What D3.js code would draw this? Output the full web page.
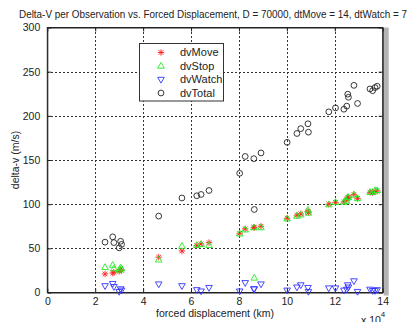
<!DOCTYPE html>
<html>
<head>
<meta charset="utf-8">
<script src="https://cdn.jsdelivr.net/npm/d3@7"></script>
<style>
  html, body { margin: 0; padding: 0; background: #fff; }
  svg { display: block; font-family: "Liberation Sans", Arial, sans-serif; }
</style>
</head>
<body>
<svg id="chart" width="412" height="322"></svg>
<script>
// forced displacement per observation (km)
const displacement = [
  24100, 27300, 27800, 30000, 30600, 31000, 46500, 56200, 62400, 64200, 67500,
  80300, 82600, 86200, 86400, 89200, 100100, 104200, 105800, 108800, 109000,
  117500, 120300, 123800, 125000, 125400, 125700, 128000, 129500, 134700,
  135800, 136800, 137700
];
// delta-v components (m/s)
const dvMove = [
  21, 22, 23, 24, 26, 25, 40, 47, 53, 55, 56.5,
  67, 72, 74, 73.5, 75, 84, 87.5, 89, 92, 90.5,
  100, 102, 102.5, 104.5, 108, 107.5, 111, 106.5, 113.5,
  113, 114.5, 115
];
const dvStop = [
  28.5, 31, 27, 25.5, 28, 27, 37, 52.5, 53.5, 54.5, 53.5,
  66.5, 71, 73.5, 16.5, 73.5, 83.5, 86.5, 88, 93.5, 90,
  99.5, 102, 102.5, 103, 108, 107.5, 110.5, 106.5, 113.5,
  113.5, 115.5, 115.5
];
const dvWatch = [
  7.5, 10, 6.5, 1, 4, 2.5, 9.5, 7.5, 3, 1.5, 5.5,
  1.5, 11, 4, 4, 9.5, 2.5, 6, 8.5, 5.5, 1,
  5, 5, 2.5, 3.5, 8.5, 6, 13, 1, 3.5,
  2, 2, 3
];
const dvTotal = [
  57, 63, 56.5, 50.5, 58, 54.5, 86.5, 107, 109.5, 111, 115.5,
  135, 154, 151.5, 94, 158, 170, 180, 185.5, 191, 181.5,
  204.5, 209, 207.5, 211, 224.5, 221, 234.5, 214, 230.5,
  228.5, 232, 233.5
];
const xTicks = [0, 20000, 40000, 60000, 80000, 100000, 120000, 140000];
const yTicks = [0, 50, 100, 150, 200, 250, 300];
const seriesNames = ["dvMove", "dvStop", "dvWatch", "dvTotal"];

const titleText = "Delta-V per Observation vs. Forced Displacement, D = 70000, dtMove = 14, dtWatch = 7";
const xLabel = "forced displacement (km)";
const yLabel = "delta-v (m/s)";

const svg = d3.select("#chart");
const plotL = 47.3, plotR = 382.7, plotT = 27.5, plotB = 292.5;

const x = d3.scaleLinear().domain([0, 140000]).range([plotL, plotR]);
const y = d3.scaleLinear().domain([0, 300]).range([plotB, plotT]);

// gray shading along the right side of the axes
svg.append("rect")
  .attr("x", plotR + 1).attr("y", plotT).attr("width", 5).attr("height", plotB - plotT + 3)
  .attr("fill", "#b4b4b4");

// plot background
svg.append("rect")
  .attr("x", plotL).attr("y", plotT).attr("width", plotR - plotL).attr("height", plotB - plotT)
  .attr("fill", "#fff");

// dotted grid
const grid = svg.append("g").attr("stroke", "#333").attr("stroke-width", 1)
  .attr("stroke-dasharray", "2,2").attr("shape-rendering", "crispEdges");
grid.selectAll("line.v").data(xTicks.slice(1, -1)).join("line")
  .attr("x1", d => Math.round(x(d)) + 0.5).attr("x2", d => Math.round(x(d)) + 0.5)
  .attr("y1", plotT).attr("y2", plotB);
grid.selectAll("line.h").data(yTicks.slice(1, -1)).join("line")
  .attr("x1", plotL).attr("x2", plotR)
  .attr("y1", d => Math.round(y(d)) + 0.5).attr("y2", d => Math.round(y(d)) + 0.5);

// axes with inward ticks
const xAxis = d3.axisBottom(x).tickValues(xTicks).tickFormat(d => d / 1e4).tickSizeInner(-4).tickSizeOuter(0).tickPadding(5.5);
const yAxis = d3.axisLeft(y).tickValues(yTicks).tickSizeInner(-4).tickSizeOuter(0).tickPadding(7);
const xTop = d3.axisTop(x).tickValues(xTicks).tickFormat("").tickSizeInner(-4).tickSizeOuter(0);
const yRight = d3.axisRight(y).tickValues(yTicks).tickFormat("").tickSizeInner(-4).tickSizeOuter(0);

function styleAxis(g) {
  g.selectAll("path").attr("stroke", "#222");
  g.selectAll("line").attr("stroke", "#222");
  g.selectAll("text").attr("fill", "#222").attr("font-size", 10.5)
    .attr("font-family", "'Liberation Sans', Arial, sans-serif");
}
svg.append("g").attr("transform", `translate(0,${plotB})`).call(xAxis).call(styleAxis);
svg.append("g").attr("transform", `translate(${plotL},0)`).call(yAxis).call(styleAxis);
svg.append("g").attr("transform", `translate(0,${plotT})`).call(xTop).call(styleAxis);
svg.append("g").attr("transform", `translate(${plotR},0)`).call(yRight).call(styleAxis);

// frame
svg.append("rect")
  .attr("x", plotL).attr("y", plotT).attr("width", plotR - plotL).attr("height", plotB - plotT)
  .attr("fill", "none").attr("stroke", "#222").attr("stroke-width", 1);

// marker shapes
const starPath = "M-3.2,0H3.2M0,-3.2V3.2M-2.3,-2.3L2.3,2.3M-2.3,2.3L2.3,-2.3";
const triUp = "M0,-3.6L3.3,2.2L-3.3,2.2Z";
const triDown = "M0,3.6L3.3,-2.2L-3.3,-2.2Z";
const markers = {
  dvMove:  { d: starPath, stroke: "#ff2020" },
  dvStop:  { d: triUp,    stroke: "#22ee22" },
  dvWatch: { d: triDown,  stroke: "#3333ff" },
  dvTotal: { circle: true, stroke: "#222" }
};
const seriesValues = { dvMove, dvStop, dvWatch, dvTotal };

function drawMarker(sel, m) {
  if (m.circle) {
    sel.append("circle").attr("r", 2.9).attr("fill", "none")
      .attr("stroke", m.stroke).attr("stroke-width", 0.9);
  } else {
    sel.append("path").attr("d", m.d).attr("fill", "none")
      .attr("stroke", m.stroke).attr("stroke-width", 0.9);
  }
}

seriesNames.forEach(name => {
  const g = svg.append("g");
  const pts = displacement.map((dx, i) => [dx, seriesValues[name][i]]);
  g.selectAll("g").data(pts).join("g")
    .attr("transform", d => `translate(${x(d[0])},${y(d[1])})`)
    .each(function () { drawMarker(d3.select(this), markers[name]); });
});

// legend
const lg = svg.append("g");
lg.append("rect").attr("x", 139.5).attr("y", 43.5).attr("width", 84).attr("height", 57.5)
  .attr("fill", "#fff").attr("stroke", "#333").attr("stroke-width", 1);
const rowY = [52.5, 66, 79.5, 93];
seriesNames.forEach((name, i) => {
  const row = lg.append("g").attr("transform", `translate(161,${rowY[i]})`);
  drawMarker(row, markers[name]);
  lg.append("text").attr("x", 180).attr("y", rowY[i]).attr("dy", "0.36em")
    .attr("font-size", 11).attr("fill", "#222").text(name);
});

// title and labels
svg.append("text").attr("x", 213).attr("y", 18).attr("text-anchor", "middle")
  .attr("font-size", 10).attr("textLength", 388).attr("lengthAdjust", "spacingAndGlyphs")
  .attr("fill", "#222").text(titleText);
svg.append("text").attr("x", (plotL + plotR) / 2).attr("y", 316.5).attr("text-anchor", "middle")
  .attr("font-size", 10.5).attr("fill", "#222").text(xLabel);
svg.append("text").attr("transform", `translate(19,${(plotT + plotB) / 2}) rotate(-90)`)
  .attr("text-anchor", "middle").attr("font-size", 10.5).attr("fill", "#222").text(yLabel);

// axis multiplier
const mult = svg.append("text").attr("x", 361).attr("y", 324).attr("font-size", 10.5).attr("fill", "#222");
mult.append("tspan").text("x 10");
mult.append("tspan").attr("dy", -7).attr("font-size", 8).text("4");
</script>
</body>
</html>
